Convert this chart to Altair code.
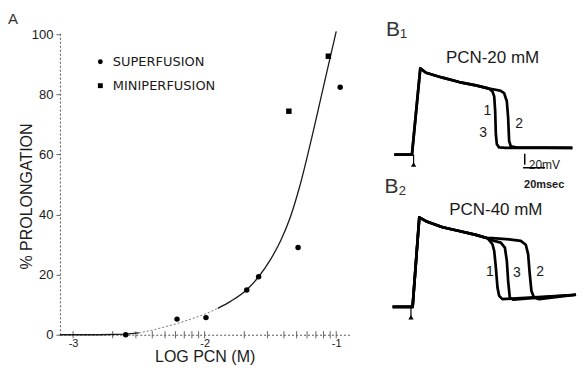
import math
import altair as alt
import pandas as pd

# ---------------- Panel A data ----------------
sup_log = [-2.60, -2.21, -1.99, -1.68, -1.59, -1.29, -0.97]
sup_pct = [0.0, 5.2, 5.7, 14.9, 19.3, 29.0, 82.4]
mini_log = [-1.36, -1.06]
mini_pct = [74.4, 92.7]
methods = ["SUPERFUSION", "MINIPERFUSION"]

fit1_log = [-3.10, -2.80, -2.60, -2.50]
fit1_pct = [0.0, 0.0, 0.2, 0.6]
fitdot_log = [-2.50, -2.40, -2.20, -2.00, -1.90]
fitdot_pct = [0.6, 1.5, 3.8, 6.8, 8.8]
fit2_log = [-1.90, -1.80, -1.68, -1.59, -1.50, -1.42, -1.35, -1.28, -1.20, -1.10, -1.00]
fit2_pct = [8.8, 11.2, 15.0, 19.3, 25.0, 31.5, 39.0, 49.0, 63.0, 82.0, 101.0]

decades = [-3, -2, -1]
log_multipliers = [1, 2, 3, 4, 5, 6, 7, 8, 9]
y_ticks = [0, 20, 40, 60, 80, 100]

# ---------------- Panel B data (time in msec, potential in mV) ----------------
b1_common_t = [4.5, 20.6, 28.2, 33.4, 48.5, 63.6, 78.8, 90.9]
b1_common_v = [-70, -70, 87, 79, 70, 62, 56, 50]
b1_tr13_t = [93.9, 95.5, 96.4, 97.0, 97.9, 100.0, 106.1, 166.7]
b1_tr13_v = [45, 36, 9, -33, -51, -57, -58, -58]
b1_tr2_t = [97.0, 101.5, 104.5, 107.0, 108.2, 109.1, 110.6, 115.2, 166.7]
b1_tr2_v = [48, 46, 42, 27, -3, -45, -55, -57, -58]

b2_common_t = [3.0, 21.2, 27.3, 33.4, 48.5, 63.6, 78.8, 89.4]
b2_common_v = [-71, -71, 92, 85, 74, 67, 60, 54]
b2_tr1_t = [93.9, 95.5, 97.0, 98.5, 100.0, 103.0, 170.0]
b2_tr1_v = [43, 31, 1, -36, -51, -57, -49]
b2_tr3_t = [93.9, 101.5, 105.2, 107.0, 108.2, 109.7, 112.7, 170.0]
b2_tr3_v = [50, 46, 37, 13, -24, -54, -58, -49]
b2_tr2_t = [93.9, 109.1, 119.7, 124.3, 126.4, 127.9, 129.4, 131.8, 136.4, 170.0]
b2_tr2_v = [54, 52, 49, 42, 25, -12, -42, -54, -57, -49]

b1_stim = (22.1, -70, -88)
b2_stim = (19.7, -71, -90)

b1_labels = [("1", 89.4, 9), ("3", 85.5, -30), ("2", 118.2, -15)]
b2_labels = [("1", 91.5, -6.7), ("3", 116.1, -8.5), ("2", 137.3, -7.8)]
b1_title = ("PCN-20 mM", 94, 106)
b2_title = ("PCN-40 mM", 97, 105.5)
b1_name = ("B\u2081", -3, 145.5)
b2_name = ("B\u2082", -4.5, 137)

bar_v = (123.3, -68.5, -88.5)   # 20 mV
bar_t = (-94, 121.8, 141.8)     # 20 msec
bar_mv_text = ("20mV", 127.0, -96.4)
bar_ms_text = ("20msec", 122.7, -131)

FONT = "Liberation Sans"
INK = "#1a1a1a"

# ---------------- Panel A ----------------
def xa():
    return alt.X("logc:Q",
                 scale=alt.Scale(domain=[-3.1, -0.9], nice=False, zero=False),
                 axis=alt.Axis(values=decades, labelExpr="'-' + format(abs(datum.value), 'd')",
                               ticks=False, grid=False, domainDash=[2, 2], domainColor="#555",
                               labelFontSize=11, labelPadding=3, labelFlush=False,
                               title="LOG PCN (M)", titleFontSize=16, titlePadding=0))

def ya():
    return alt.Y("pct:Q",
                 scale=alt.Scale(domain=[0, 101], nice=False),
                 axis=alt.Axis(values=y_ticks, grid=False, tickSize=4, tickColor="#666",
                               domainDash=[2, 2], domainColor="#555",
                               labelFontSize=13, labelPadding=3,
                               title="% PROLONGATION", titleFontSize=16, titlePadding=-3,
                               titleY=165))

pts = pd.DataFrame({
    "logc": sup_log + mini_log,
    "pct": sup_pct + mini_pct,
    "method": [methods[0]] * len(sup_log) + [methods[1]] * len(mini_log),
})
fit1 = pd.DataFrame({"logc": fit1_log, "pct": fit1_pct})
fitdot = pd.DataFrame({"logc": fitdot_log, "pct": fitdot_pct})
fit2 = pd.DataFrame({"logc": fit2_log, "pct": fit2_pct})
minor = pd.DataFrame({
    "logc": [d + math.log10(k) for d in decades[:-1] for k in log_multipliers] + [decades[-1]],
})
minor["pct"] = -1.2
minor["pct2"] = 1.2

ticks_layer = alt.Chart(minor).mark_rule(color="#666", strokeWidth=1).encode(
    x=xa(), y=ya(), y2="pct2:Q")
line1 = alt.Chart(fit1).mark_line(color=INK, strokeWidth=1.3).encode(x=xa(), y=ya())
linedot = alt.Chart(fitdot).mark_line(color="#777", strokeWidth=1, strokeDash=[2, 2]).encode(x=xa(), y=ya())
line2 = alt.Chart(fit2).mark_line(color=INK, strokeWidth=1.3, interpolate="monotone").encode(x=xa(), y=ya())
points = alt.Chart(pts).mark_point(filled=True, size=30, opacity=1, color="black").encode(
    x=xa(), y=ya(),
    shape=alt.Shape("method:N",
                    scale=alt.Scale(domain=methods, range=["circle", "square"]),
                    legend=alt.Legend(orient="none", legendX=34, legendY=24, title=None,
                                      labelFontSize=13, labelFont="DejaVu Sans", labelColor=INK,
                                      symbolSize=24, symbolFillColor="black", symbolStrokeWidth=0,
                                      labelOffset=6, rowPadding=10, padding=0)))
a_label = alt.Chart(pd.DataFrame({"t": ["A"]})).mark_text(
    font=FONT, fontSize=15, align="left", baseline="alphabetic", color="#333").encode(
    text="t:N", x=alt.value(-52), y=alt.value(-7))

panel_a = alt.layer(ticks_layer, line1, linedot, line2, points, a_label).properties(width=290, height=304)

# ---------------- Panel B ----------------
def xb():
    return alt.X("t:Q", scale=alt.Scale(domain=[0, 170], nice=False, zero=False), axis=None)

def yb(field="v:Q"):
    return alt.Y(field, scale=alt.Scale(domain=[-100, 154.5], nice=False, zero=False), axis=None)

def make_traces(common_t, common_v, tails):
    rows = []
    for name, tt, vv in tails:
        seq_t = common_t + tt
        seq_v = common_v + vv
        for i, (a, b) in enumerate(zip(seq_t, seq_v)):
            rows.append({"trace": name, "i": i, "t": a, "v": b})
    return pd.DataFrame(rows)

def text_layer(rows, size, weight="normal", align="center", baseline="middle", color=INK):
    df = pd.DataFrame(rows, columns=["txt", "t", "v"])
    return alt.Chart(df).mark_text(font=FONT, fontSize=size, fontWeight=weight, color=color,
                                   align=align, baseline=baseline).encode(x=xb(), y=yb(), text="txt:N")

def make_panel(traces, stim, labels, title, name, with_bar):
    layers = []
    layers.append(alt.Chart(traces).mark_line(color="black", strokeWidth=2.7, strokeJoin="round").encode(
        x=xb(), y=yb(), detail="trace:N", order="i:Q"))
    st = pd.DataFrame({"t": [stim[0]], "v": [stim[1]], "v2": [stim[2]]})
    layers.append(alt.Chart(st).mark_rule(color="black", strokeWidth=1.2).encode(x=xb(), y=yb(), y2="v2:Q"))
    layers.append(alt.Chart(st).mark_point(shape="triangle-up", filled=True, size=28, color="black",
                                           opacity=1).encode(x=xb(), y=yb("v2:Q")))
    layers.append(text_layer(labels, 14))
    layers.append(text_layer([title], 17))
    layers.append(text_layer([name], 21, align="left", baseline="alphabetic", color="#333"))
    if with_bar:
        bv = pd.DataFrame({"t": [bar_v[0]], "v": [bar_v[1]], "v2": [bar_v[2]]})
        layers.append(alt.Chart(bv).mark_rule(color="black", strokeWidth=1.5).encode(x=xb(), y=yb(), y2="v2:Q"))
        bt = pd.DataFrame({"v": [bar_t[0]], "t": [bar_t[1]], "t2": [bar_t[2]]})
        layers.append(alt.Chart(bt).mark_rule(color="black", strokeWidth=1.5).encode(x=xb(), x2="t2:Q", y=yb()))
        layers.append(text_layer([bar_mv_text], 12, align="left", baseline="alphabetic"))
        layers.append(text_layer([bar_ms_text], 11, weight="bold", align="left", baseline="alphabetic"))
    return alt.layer(*layers).properties(width=187, height=140)

b1_traces = make_traces(b1_common_t, b1_common_v, [("1/3", b1_tr13_t, b1_tr13_v), ("2", b1_tr2_t, b1_tr2_v)])
b2_traces = make_traces(b2_common_t, b2_common_v,
                        [("1", b2_tr1_t, b2_tr1_v), ("3", b2_tr3_t, b2_tr3_v), ("2", b2_tr2_t, b2_tr2_v)])

panel_b1 = make_panel(b1_traces, b1_stim, b1_labels, b1_title, b1_name, True)
panel_b2 = make_panel(b2_traces, b2_stim, b2_labels, b2_title, b2_name, False)

chart = alt.hconcat(
    panel_a,
    alt.vconcat(panel_b1, panel_b2, spacing=12, bounds="flush"),
    spacing=40, bounds="flush",
).properties(
    padding={"left": 0, "top": 4, "right": 0, "bottom": 0}
).configure_view(stroke=None).configure_axis(
    labelFont=FONT, titleFont=FONT, labelColor=INK, titleColor=INK, titleFontWeight="normal"
)

chart.save("out.html", embed_options={"renderer": "svg", "actions": False})
